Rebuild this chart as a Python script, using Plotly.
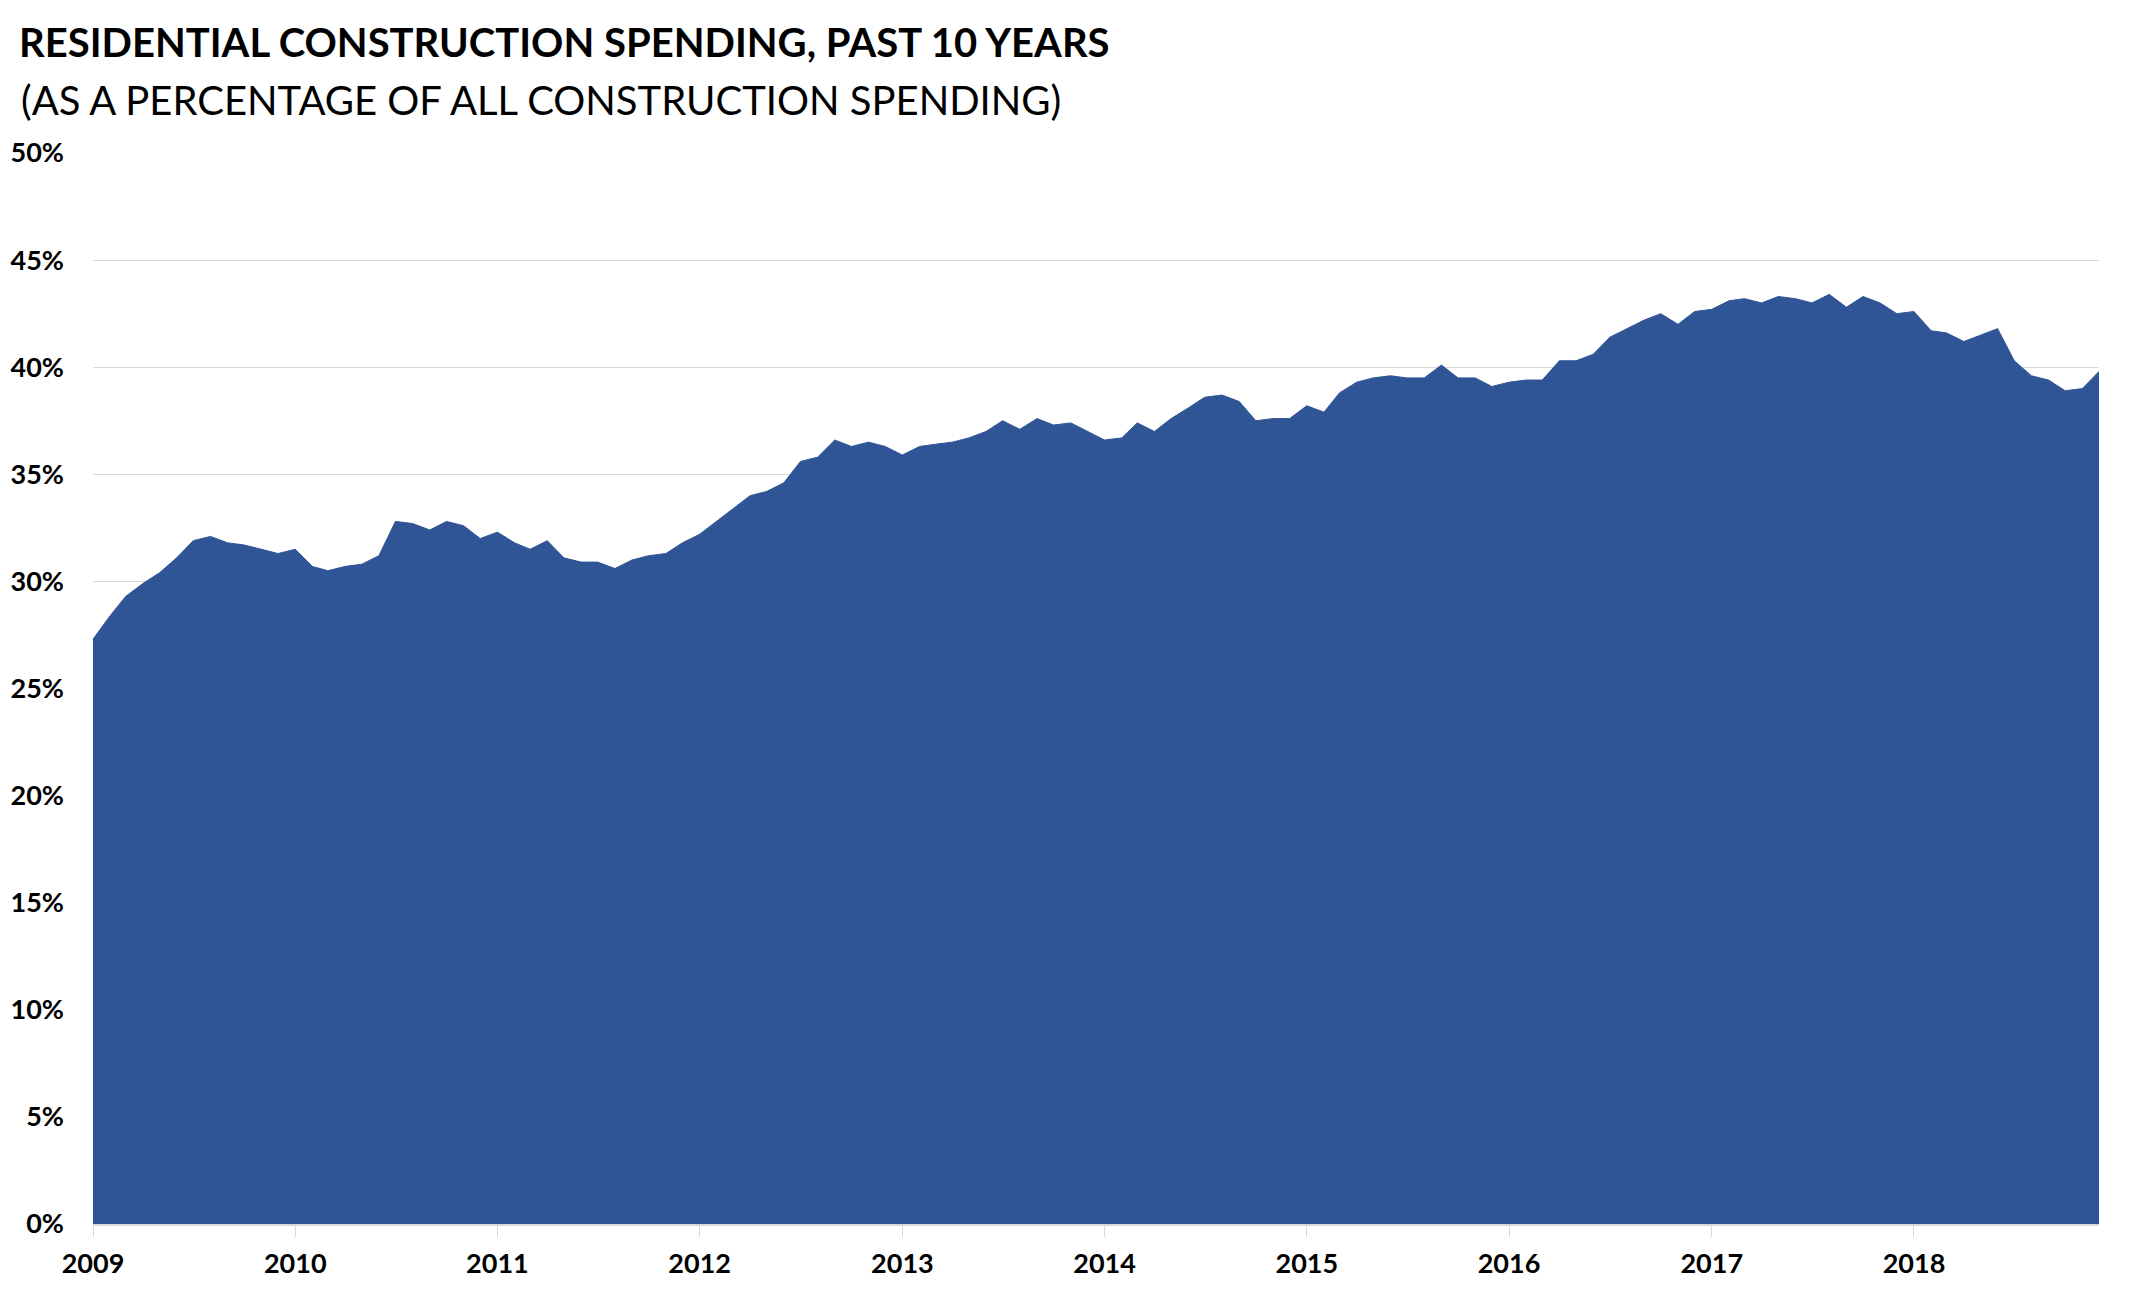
import plotly.graph_objects as go
import pandas as pd

# Residential share of all construction spending, monthly Jan 2009 - Dec 2018 (%)
share_2009 = [27.3, 28.4, 29.3, 29.9, 30.4, 31.1, 31.9, 32.1, 31.8, 31.7, 31.5, 31.3]
share_2010 = [31.5, 30.7, 30.5, 30.7, 30.8, 31.2, 32.8, 32.7, 32.4, 32.8, 32.6, 32.0]
share_2011 = [32.3, 31.8, 31.5, 31.9, 31.1, 30.9, 30.9, 30.6, 31.0, 31.2, 31.3, 31.8]
share_2012 = [32.2, 32.8, 33.4, 34.0, 34.2, 34.6, 35.6, 35.8, 36.6, 36.3, 36.5, 36.3]
share_2013 = [35.9, 36.3, 36.4, 36.5, 36.7, 37.0, 37.5, 37.1, 37.6, 37.3, 37.4, 37.0]
share_2014 = [36.6, 36.7, 37.4, 37.0, 37.6, 38.1, 38.6, 38.7, 38.4, 37.5, 37.6, 37.6]
share_2015 = [38.2, 37.9, 38.8, 39.3, 39.5, 39.6, 39.5, 39.5, 40.1, 39.5, 39.5, 39.1]
share_2016 = [39.3, 39.4, 39.4, 40.3, 40.3, 40.6, 41.4, 41.8, 42.2, 42.5, 42.0, 42.6]
share_2017 = [42.7, 43.1, 43.2, 43.0, 43.3, 43.2, 43.0, 43.4, 42.8, 43.3, 43.0, 42.5]
share_2018 = [42.6, 41.7, 41.6, 41.2, 41.5, 41.8, 40.3, 39.6, 39.4, 38.9, 39.0, 39.8]

values = (share_2009 + share_2010 + share_2011 + share_2012 + share_2013 +
          share_2014 + share_2015 + share_2016 + share_2017 + share_2018)
months = pd.date_range("2009-01-01", periods=len(values), freq="MS")

year_ticks = [f"{y}-01-01" for y in range(2009, 2019)]
year_labels = [str(y) for y in range(2009, 2019)]
pct_ticks = list(range(0, 51, 5))
pct_labels = [f"{p}%" for p in pct_ticks]

FONT = "Lato, Open Sans, sans-serif"
BLUE = "#2F5597"

fig = go.Figure()
fig.add_trace(go.Scatter(
    x=months, y=values, mode="lines", fill="tozeroy",
    line=dict(color=BLUE, width=1), fillcolor=BLUE,
    hoverinfo="x+y", showlegend=False,
))

fig.update_layout(
    width=2146, height=1294,
    margin=dict(l=93, r=47, t=153, b=70),
    paper_bgcolor="white", plot_bgcolor="white",
    font=dict(family=FONT, color="black"),
    title=dict(
        text="<b>RESIDENTIAL CONSTRUCTION SPENDING, PAST 10 YEARS</b>",
        xref="container", yref="container",
        x=19 / 2146, y=1 - 43 / 1294, xanchor="left", yanchor="middle",
        font=dict(family=FONT, size=40, color="black"),
    ),
    annotations=[dict(
        text="(AS A PERCENTAGE OF ALL CONSTRUCTION SPENDING)",
        xref="paper", yref="paper",
        x=(19 - 93) / 2006, y=(1224 - 100) / 1071,
        xanchor="left", yanchor="middle", showarrow=False,
        font=dict(family=FONT, size=40, color="black"),
    )],
    xaxis=dict(
        range=[months[0], months[-1]],
        tickmode="array", tickvals=year_ticks, ticktext=year_labels,
        showgrid=False, showline=True, linecolor="#d9d9d9", linewidth=2,
        ticks="outside", ticklen=11, tickcolor="#d9d9d9", tickwidth=1,
        tickfont=dict(family=FONT, size=27, color="black", weight="bold"),
        ticklabelstandoff=4,
    ),
    yaxis=dict(
        range=[0, 50],
        tickmode="array", tickvals=pct_ticks, ticktext=pct_labels,
        showgrid=True, gridcolor="#d9d9d9", gridwidth=1,
        zeroline=False, showline=False, ticks="",
        tickfont=dict(family=FONT, size=27, color="black", weight="bold"),
        ticklabelstandoff=28,
    ),
)

fig.write_html("out.html", config={"displayModeBar": False},
               post_script="document.body.style.margin='0';")
